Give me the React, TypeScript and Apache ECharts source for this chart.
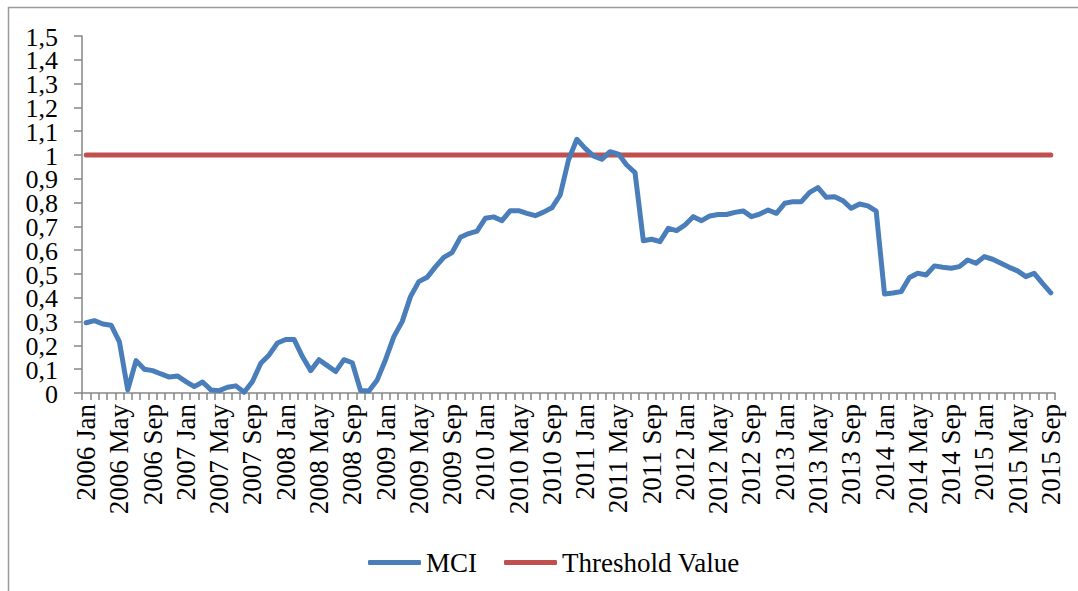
import React, { useEffect, useRef } from "react";
import * as echarts from "echarts";

const YEARS = [2006, 2007, 2008, 2009, 2010, 2011, 2012, 2013, 2014, 2015];
const MONTHS = ["Jan", "Feb", "Mar", "Apr", "May", "Jun", "Jul", "Aug", "Sep", "Oct", "Nov", "Dec"];
const LAST_MONTH_COUNT_2015 = 9;

const categories: string[] = [];
YEARS.forEach((y) => {
  const n = y === 2015 ? LAST_MONTH_COUNT_2015 : 12;
  for (let m = 0; m < n; m++) categories.push(`${y} ${MONTHS[m]}`);
});

const mci2006 = [0.295, 0.304, 0.29, 0.285, 0.215, 0.013, 0.136, 0.1, 0.094, 0.08, 0.067, 0.071];
const mci2007 = [0.048, 0.027, 0.046, 0.013, 0.01, 0.024, 0.03, 0.003, 0.048, 0.125, 0.16, 0.21];
const mci2008 = [0.225, 0.225, 0.153, 0.094, 0.14, 0.115, 0.09, 0.14, 0.127, 0.01, 0.008, 0.055];
const mci2009 = [0.14, 0.237, 0.3, 0.405, 0.468, 0.486, 0.53, 0.57, 0.59, 0.654, 0.67, 0.68];
const mci2010 = [0.734, 0.74, 0.724, 0.766, 0.766, 0.755, 0.745, 0.76, 0.778, 0.832, 0.979, 1.066];
const mci2011 = [1.028, 0.996, 0.982, 1.014, 1.004, 0.958, 0.926, 0.64, 0.646, 0.636, 0.692, 0.682];
const mci2012 = [0.706, 0.741, 0.724, 0.744, 0.75, 0.75, 0.759, 0.765, 0.741, 0.752, 0.769, 0.755];
const mci2013 = [0.797, 0.804, 0.804, 0.843, 0.863, 0.822, 0.825, 0.808, 0.776, 0.794, 0.786, 0.764];
const mci2014 = [0.416, 0.42, 0.426, 0.485, 0.503, 0.496, 0.534, 0.528, 0.524, 0.531, 0.559, 0.545];
const mci2015 = [0.573, 0.562, 0.545, 0.528, 0.513, 0.489, 0.503, 0.461, 0.421];

const mciValues = [
  ...mci2006, ...mci2007, ...mci2008, ...mci2009, ...mci2010,
  ...mci2011, ...mci2012, ...mci2013, ...mci2014, ...mci2015,
];

const THRESHOLD_VALUE = 1;
const thresholdValues = categories.map(() => THRESHOLD_VALUE);

const Y_TICK_VALUES = [0, 0.1, 0.2, 0.3, 0.4, 0.5, 0.6, 0.7, 0.8, 0.9, 1, 1.1, 1.2, 1.3, 1.4, 1.5];
const Y_TICK_LABELS = ["0", "0,1", "0,2", "0,3", "0,4", "0,5", "0,6", "0,7", "0,8", "0,9", "1", "1,1", "1,2", "1,3", "1,4", "1,5"];

const FONT = "'Liberation Serif', 'Times New Roman', serif";

const borderRect = {
  id: "border",
  type: "rect",
  shape: { x: 8.5, y: 7.5, width: 1080, height: 600 },
  style: { fill: "none", stroke: "#9a9a9a", lineWidth: 1.5 },
  silent: true,
  z: -1,
};

export default function App() {
  const ref = useRef<HTMLDivElement>(null);

  useEffect(() => {
    if (!ref.current) return;
    const chart = echarts.init(ref.current, undefined, { renderer: "svg" });
    chart.setOption({
      animation: false,
      backgroundColor: "#ffffff",
      graphic: [borderRect],
      grid: { left: 82, right: 23, top: 36, bottom: 198, containLabel: false },
      legend: {
        left: 363,
        top: 544,
        itemWidth: 53,
        itemHeight: 5,
        itemGap: 27,
        icon: "roundRect",
        textStyle: { fontFamily: FONT, fontSize: 27, color: "#000" },
        data: ["MCI", "Threshold Value"],
      },
      xAxis: {
        type: "category",
        data: categories,
        boundaryGap: true,
        axisLine: { lineStyle: { color: "#868686", width: 1.5 } },
        axisTick: { show: true, interval: 0, length: 7, lineStyle: { color: "#868686", width: 1.5 } },
        axisLabel: {
          interval: 3,
          rotate: 90,
          margin: 11,
          fontFamily: FONT,
          fontSize: 27,
          lineHeight: 20,
          color: "#000",
        },
        splitLine: { show: false },
      },
      yAxis: {
        type: "value",
        min: 0,
        max: 1.5,
        interval: 0.1,
        axisLine: { show: true, lineStyle: { color: "#868686", width: 1.5 } },
        axisTick: { show: true, length: 8, lineStyle: { color: "#868686", width: 1.5 } },
        axisLabel: { show: false },
        splitLine: { show: false },
      },
      series: [
        {
          name: "MCI",
          type: "line",
          data: mciValues,
          showSymbol: false,
          symbol: "none",
          lineStyle: { color: "#4A7EBB", width: 5, cap: "round", join: "round" },
          itemStyle: { color: "#4A7EBB" },
          z: 3,
        },
        {
          name: "Threshold Value",
          type: "line",
          data: thresholdValues,
          showSymbol: false,
          symbol: "none",
          lineStyle: { color: "#C0504D", width: 5, cap: "round", join: "round" },
          itemStyle: { color: "#C0504D" },
          z: 2,
        },
      ],
    });

    const axisX = chart.convertToPixel({ xAxisIndex: 0 }, categories[0]) as number;
    const gridLeft = 82;
    const labels = Y_TICK_VALUES.map((v, i) => {
      const py = chart.convertToPixel({ yAxisIndex: 0 }, v) as number;
      return {
        type: "text",
        id: "ylab" + i,
        x: gridLeft - 24,
        y: py + 1,
        silent: true,
        style: {
          text: Y_TICK_LABELS[i],
          fontFamily: FONT,
          fontSize: 26,
          fill: "#000",
          align: "right",
          verticalAlign: "middle",
        },
      };
    });
    void axisX;
    chart.setOption({ graphic: [borderRect, ...labels] });

    return () => chart.dispose();
  }, []);

  return (
    <div
      ref={ref}
      style={{ position: "fixed", left: 0, top: 0, width: 1078, height: 591 }}
    />
  );
}
